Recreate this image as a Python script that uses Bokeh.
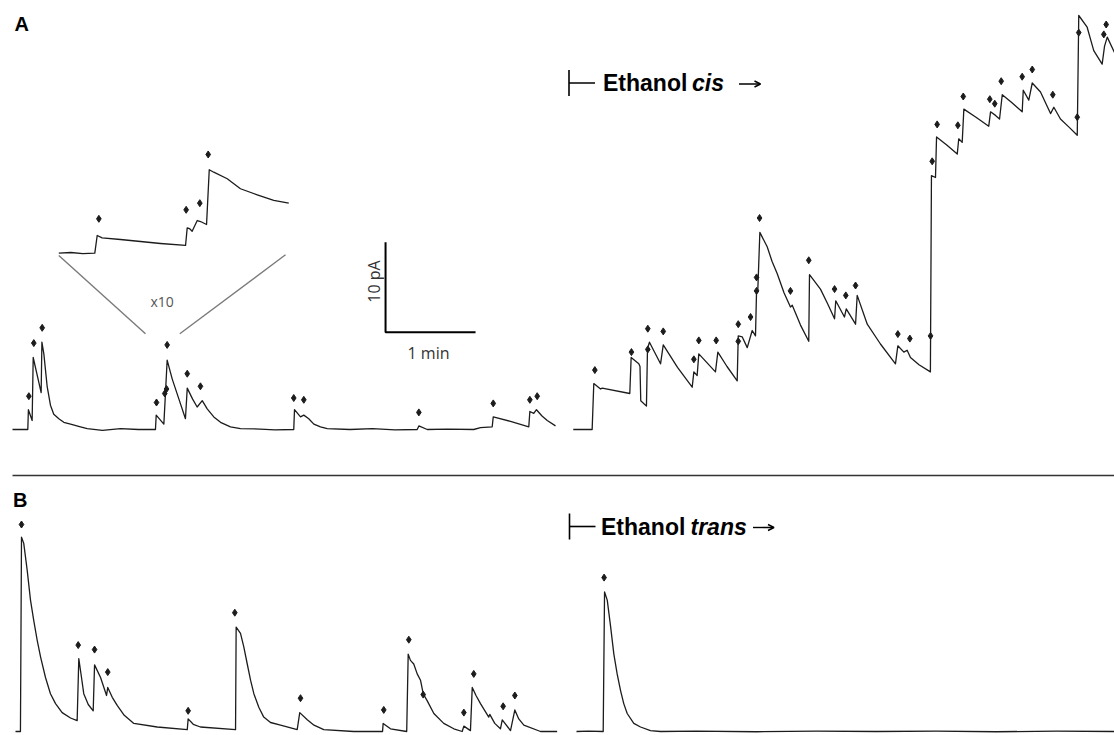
import math
from bokeh.plotting import figure
from bokeh.models import Range1d, Label, Arrow, OpenHead
from bokeh.embed import file_html
from bokeh.resources import INLINE

W, H = 1114, 735

# ---------------- data: (time s, current pA) ----------------
# Panel A, before ethanol
a_left = [(0, 0), (10.2, 0), (10.6, 2.2), (13.1, 1.0), (13.8, 8.0), (19.1, 4.1), (19.6, 9.7),
          (20.9, 8.4), (22.0, 6.6), (23.1, 4.8), (25.3, 2.7), (27.5, 1.7), (30.9, 1.2),
          (34.2, 0.8), (38.7, 0.6), (45.3, 0.3), (49.8, 0.1), (60, -0.1), (72, 0.1),
          (84, 0), (95.3, 0), (95.8, 1.6), (100.9, 0.6), (102.0, 4.1), (103.1, 7.7),
          (106.5, 5.6), (110.5, 3.6), (115.3, 1.2), (116.5, 4.6), (120.0, 3.4), (123.1, 2.5),
          (126.5, 3.2), (129.8, 2.3), (134.2, 1.4), (138.7, 0.8), (145.3, 0.3), (152, 0.1),
          (165, 0.05), (175, -0.05), (187.5, 0), (188.0, 2.2), (192.0, 1.4), (194.2, 1.6),
          (197.5, 1.2), (200.9, 0.6), (205.3, 0.3), (209.8, 0.1), (225, 0), (240, 0.1),
          (255, -0.05), (269.8, 0), (270.9, 0.4), (276.5, 0), (290, 0.05), (307.5, 0),
          (312.0, 0.2), (319.8, 0.3), (320.5, 1.4), (332, 0.9), (344.2, 0.3), (344.9, 2.0),
          (347.5, 1.8), (349.3, 2.2), (353, 1.5), (356.5, 1.0), (362.0, 0.4)]
a_left_marks = [(10.9, 3.7), (14.2, 9.6), (19.8, 11.3), (96.0, 3.0), (101.5, 4.0), (102.7, 4.5),
                (103.1, 9.4), (116.5, 6.2), (125.3, 4.8), (187.5, 3.5), (194.2, 3.3), (270.9, 1.9),
                (320.5, 2.9), (344.9, 3.3), (349.8, 3.7)]

# Panel A, ethanol cis
a_right = [(0.5, 0), (13.1, 0), (14.2, 5.1), (18.7, 4.5), (19.8, 4.6), (38.2, 4.0), (39.1, 8.0),
           (44.2, 7.3), (45.0, 7.0), (45.5, 3.2), (49.3, 2.6), (50.0, 9.0), (51.3, 9.7),
           (58.7, 7.3), (60.5, 9.4), (70.0, 6.9), (79.8, 4.7), (80.9, 6.4), (83.1, 6.0),
           (84.2, 8.4), (95.3, 6.4), (96.9, 8.6), (103.0, 7.0), (109.8, 5.4), (110.5, 10.4),
           (113.1, 10.3), (116.5, 9.1), (119.8, 11.0), (122.0, 10.4), (122.7, 15.4),
           (123.5, 15.3), (124.9, 21.9), (129.8, 20.3), (133.0, 18.7), (136.5, 17.3),
           (141.0, 15.2), (145.3, 13.6), (146.5, 13.8), (152.0, 11.6), (157.5, 9.8),
           (158.0, 17.2), (165.3, 15.6), (170.0, 14.0), (174.7, 12.3), (175.5, 14.3),
           (181.3, 12.5), (182.5, 13.4), (188.7, 11.7), (189.8, 14.9), (196.5, 11.7),
           (205.3, 9.5), (215.3, 7.3), (216.9, 9.3), (220.9, 8.6), (223.1, 8.8), (225.3, 8.0),
           (231.0, 7.2), (238.6, 6.4), (239.3, 28.2), (242.0, 28.0), (242.7, 32.5),
           (249.5, 31.6), (256.5, 30.6), (257.5, 32.3), (259.8, 31.9), (260.9, 35.6),
           (269.0, 34.7), (277.5, 33.7), (278.7, 35.3), (282.0, 34.9), (284.7, 34.5),
           (286.5, 37.2), (293.0, 36.3), (299.8, 35.3), (300.5, 37.7), (304.2, 36.6),
           (306.5, 38.5), (312.0, 37.5), (318.7, 35.1), (320.9, 35.8), (325.3, 34.5),
           (331.0, 33.6), (336.5, 32.7), (337.5, 46.0), (343.1, 44.7), (347.5, 42.1),
           (353.1, 40.6), (354.7, 42.6), (356.5, 43.6), (361.3, 41.9)]
a_right_marks = [(14.9, 6.6), (39.3, 8.6), (50.2, 11.2), (50.2, 8.9), (60.5, 10.9), (80.9, 7.8),
                 (84.2, 9.9), (95.8, 9.9), (110.5, 11.7), (110.5, 9.8), (118.7, 12.5),
                 (122.7, 16.9), (122.7, 15.4), (124.7, 23.5), (145.3, 15.4), (157.5, 18.8),
                 (174.7, 15.6), (182.2, 14.9), (188.7, 16.0), (216.9, 10.6), (224.9, 10.1),
                 (238.7, 10.4), (239.8, 29.8), (243.1, 33.9), (256.9, 33.8), (260.5, 37.0),
                 (278.2, 36.7), (281.5, 36.2), (285.8, 38.7), (299.8, 39.2), (306.5, 40.0),
                 (320.2, 37.2), (336.5, 34.7), (337.5, 44.1), (354.2, 43.9), (355.8, 45.0)]

# Inset (x10)
inset = [(0, 0), (0.8, 0.08), (1.6, -0.05), (2.4, 0), (2.56, 1.97), (2.89, 1.71), (4.11, 1.52),
         (5.45, 1.3), (6.78, 1.08), (8.45, 0.86), (8.56, 2.82), (8.71, 2.74), (8.89, 2.44),
         (9.23, 3.63), (9.45, 3.52), (9.85, 3.19), (10.03, 9.27), (10.33, 9.0), (11.23, 8.27),
         (12.11, 7.16), (13.23, 6.49), (14.33, 5.86), (15.33, 5.56)]
inset_marks = [(2.67, 3.82), (8.49, 4.82), (9.4, 5.56), (9.96, 10.97)]

# Panel B, before ethanol
b_left = [(0, 0), (3.3, 0), (4.0, 21.6), (5.5, 20.9), (7.8, 17.9), (10.0, 14.6), (12.2, 12.3),
          (14.5, 10.1), (16.7, 8.3), (20.0, 6.0), (23.3, 4.2), (26.7, 3.1), (31.1, 2.1),
          (36.7, 1.5), (41.1, 1.2), (42.2, 8.1), (44.0, 6.0), (45.5, 4.2), (48.5, 3.0),
          (51.8, 2.3), (52.7, 7.4), (56.7, 6.0), (60.7, 4.0), (61.5, 4.9), (64.5, 3.8),
          (67.8, 2.9), (72.5, 1.8), (78.9, 0.9), (94.5, 0.5), (114.5, 0.2), (115.1, 1.4),
          (118.5, 0.8), (123.3, 0.5), (146.7, 0.2), (147.1, 11.6), (150.0, 10.9), (152.2, 9.4),
          (154.5, 7.5), (156.7, 5.7), (158.9, 4.2), (162.2, 2.7), (165.5, 1.6), (170.0, 1.0),
          (176.7, 0.7), (187.8, 0.2), (189.5, 2.1), (194.5, 1.3), (199.0, 0.7), (205.5, 0.2),
          (225.5, 0), (244.7, 0), (245.1, 0.9), (250, 0.3), (260.8, 0), (261.8, 8.6),
          (263.3, 7.9), (265.5, 7.5), (267.8, 6.4), (270, 5.7), (271.8, 4.2), (274.5, 3.4),
          (278.9, 2.0), (285.5, 0.9), (292.2, 0.3), (297.8, 0), (298.9, 0.6), (303.3, 0.1),
          (304.5, 4.9), (307.0, 4.0), (310, 3.1), (315.5, 1.6), (316.2, 1.9), (319.5, 0.9),
          (323.3, 0.3), (324.5, 1.3), (330, 0.1), (332.9, 2.4), (335.5, 1.4), (338.9, 0.7),
          (350, 0), (361.1, 0)]
b_left_marks = [(4.0, 23.0), (41.8, 9.6), (52.7, 9.1), (61.5, 6.6), (115.1, 2.3), (146.2, 13.2),
                (190, 3.7), (245.5, 2.4), (262.2, 10.2), (271.8, 4.1), (298.9, 2.1), (305.5, 6.4),
                (325.1, 2.8), (332.9, 4.0)]

# Panel B, ethanol trans
b_right = [(0, 0), (8, 0.05), (17.8, 0), (18.7, 15.5), (20.5, 14.6), (22.7, 11.7), (24.9, 8.6),
           (27.1, 6.4), (29.3, 4.6), (31.5, 3.1), (33.8, 2.0), (38.2, 0.9), (42.7, 0.5),
           (49.3, 0.1), (56, 0), (80, 0.05), (120, -0.03), (160, 0.05), (200, 0), (240, 0.05),
           (280, -0.03), (320, 0.05), (358.7, 0)]
b_right_marks = [(18.4, 17.1)]

SCALE_T = 60     # s  (1 min)
SCALE_I = 10     # pA

# ---------------- figure ----------------
p = figure(width=W, height=H, x_range=Range1d(0, W), y_range=Range1d(H, 0),
           output_backend="svg", toolbar_location=None, min_border=0,
           x_axis_location=None, y_axis_location=None)
p.grid.visible = False
p.outline_line_color = None
p.background_fill_color = "white"
p.border_fill_color = "white"


def xr(origin_px, px_per_unit):
    return Range1d(-origin_px / px_per_unit, (W - origin_px) / px_per_unit)


def yr(origin_px, px_per_unit):
    return Range1d((origin_px - H) / px_per_unit, origin_px / px_per_unit)


p.extra_x_ranges = {"aL": xr(12, 1.5), "aR": xr(572, 1.5), "bL": xr(15, 1.5),
                    "bR": xr(576, 1.5), "ins": xr(58.3, 15)}
p.extra_y_ranges = {"a": yr(429, 9), "b": yr(731, 9), "ins": yr(252.7, 9)}

TRACE = "#1c1c1c"


def trace(pairs, marks, xn, yn):
    t, i = zip(*pairs)
    p.line(list(t), list(i), x_range_name=xn, y_range_name=yn,
           line_color=TRACE, line_width=1.3, line_join="round")
    mt, mi = zip(*marks)
    p.scatter(list(mt), list(mi), marker="diamond", size=7, fill_color=TRACE,
              line_color=TRACE, x_range_name=xn, y_range_name=yn)


trace(a_left, a_left_marks, "aL", "a")
trace(a_right, a_right_marks, "aR", "a")
trace(inset, inset_marks, "ins", "ins")
trace(b_left, b_left_marks, "bL", "b")
trace(b_right, b_right_marks, "bR", "b")

# scale bar (in panel A-left units)
sb_t0, sb_i0 = 248.7, 10.8
p.line([sb_t0, sb_t0, sb_t0 + SCALE_T], [sb_i0 + SCALE_I, sb_i0, sb_i0],
       x_range_name="aL", y_range_name="a", line_color="black", line_width=2)

SB_FONT = "Open Sans"
p.add_layout(Label(x=428, y=352, text="1 min", text_align="center", text_baseline="middle",
                   text_font=SB_FONT, text_font_size="16px", text_color="#333333"))
p.add_layout(Label(x=373, y=281, text="10 pA", text_align="center", text_baseline="middle",
                   angle=math.pi / 2, text_font=SB_FONT, text_font_size="16px",
                   text_color="#333333"))

# inset connectors and label
p.segment(x0=[58.3, 285], y0=[255, 254.3], x1=[145, 179.3], y1=[333.3, 333.3],
          line_color="#7a7a7a", line_width=1.4)
p.add_layout(Label(x=161.7, y=301, text="x10", text_align="center", text_baseline="middle",
                   text_font=SB_FONT, text_font_size="14px", text_color="#555555"))

# divider between A and B
p.segment(x0=[12], y0=[475], x1=[W], y1=[475], line_color="#333333", line_width=1.5)

# panel letters
for lx, ly, lt in [(14, 23.5, "A"), (12.5, 499, "B")]:
    p.add_layout(Label(x=lx, y=ly, text=lt, text_font="Liberation Sans", text_font_size="20px",
                       text_font_style="bold", text_baseline="middle", text_color="black"))

# ethanol labels
for (bx, by, tx, word, wx, ax0, ax1) in [(568.5, 82.5, 602.5, "cis", 691.5, 738.5, 760),
                                         (569, 526, 600.5, "trans", 690, 752.5, 773.5)]:
    p.segment(x0=[bx, bx], y0=[by - 13, by], x1=[bx, bx + 26], y1=[by + 13, by],
              line_color="black", line_width=1.6)
    p.add_layout(Label(x=tx, y=by, text="Ethanol", text_font="Liberation Sans",
                       text_font_size="23px", text_font_style="bold", text_baseline="middle",
                       text_color="black"))
    p.add_layout(Label(x=wx, y=by, text=word, text_font="Liberation Sans",
                       text_font_size="23px", text_font_style="bold italic",
                       text_baseline="middle", text_color="black"))
    p.add_layout(Arrow(x_start=ax0, y_start=by + 1, x_end=ax1, y_end=by + 1,
                       line_color="black", line_width=1.4,
                       end=OpenHead(size=6, line_color="black", line_width=1.4)))

open("out.html", "w").write(file_html(p, INLINE))
